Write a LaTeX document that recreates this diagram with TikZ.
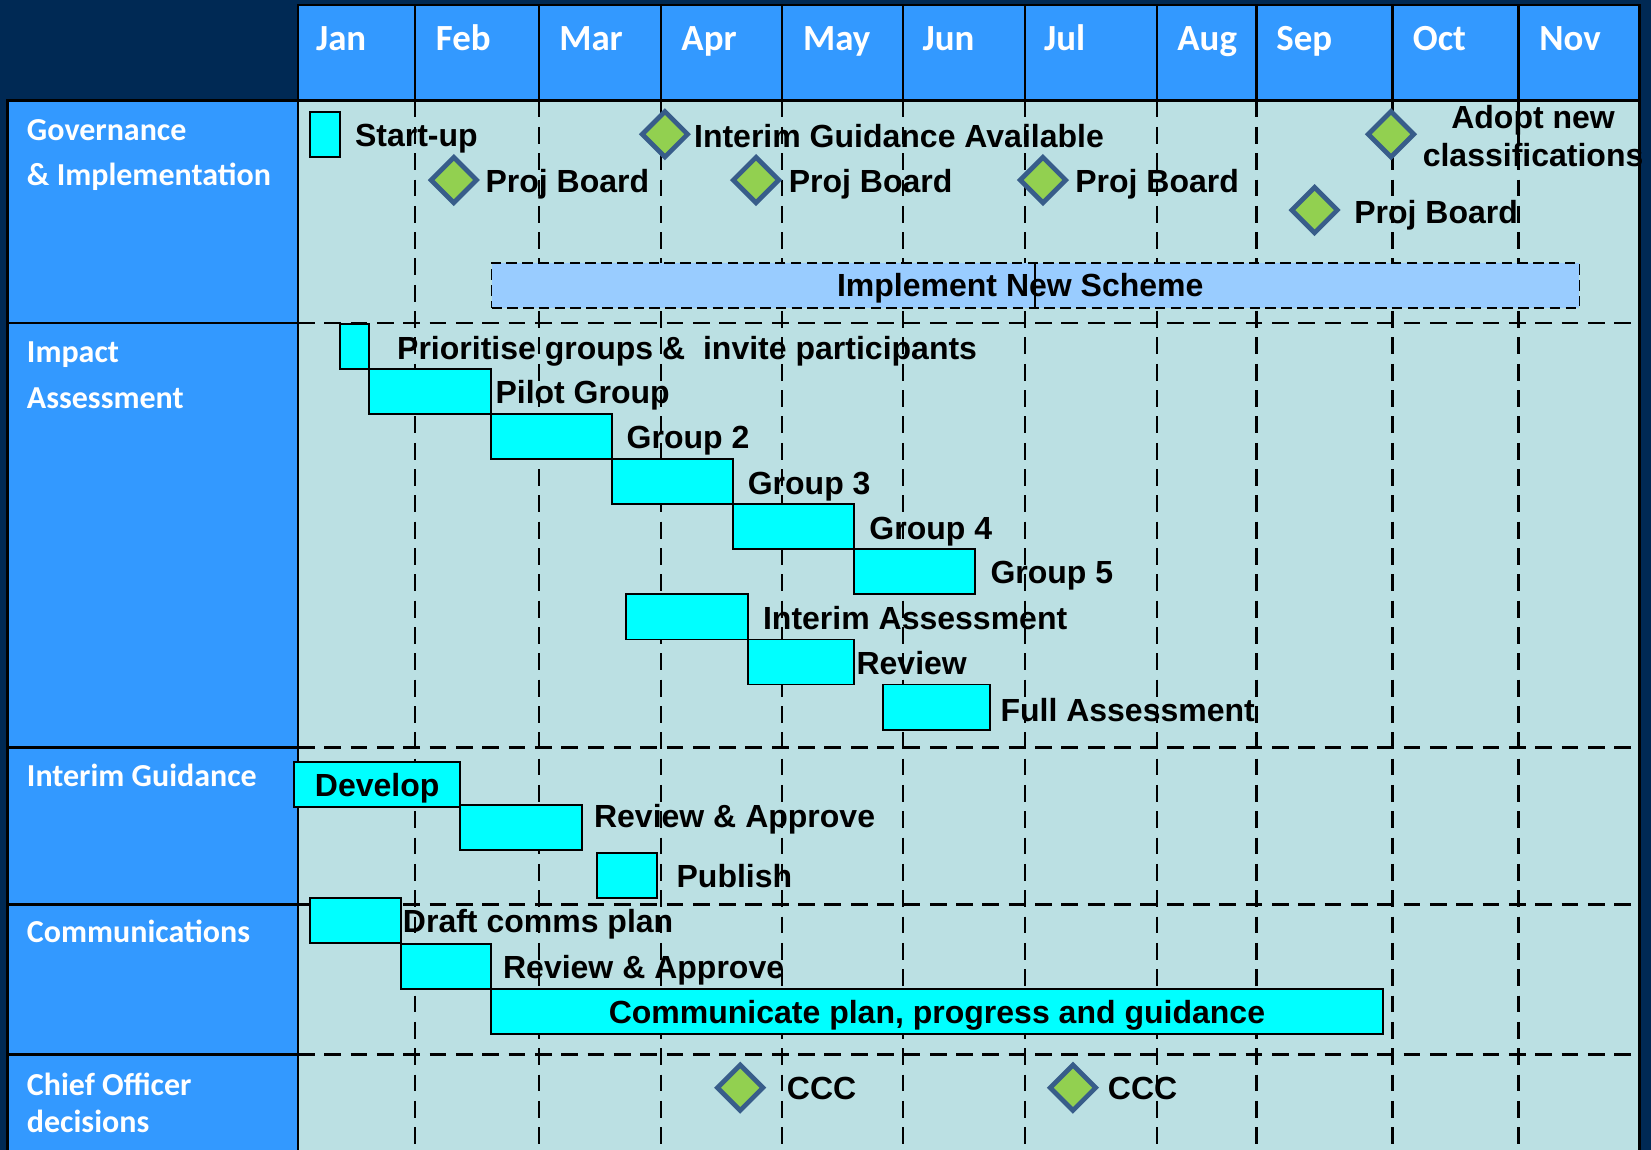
\documentclass[tikz,border=0pt]{standalone}
\usepackage{fontspec}
\setmainfont{Liberation Sans}
\newfontfamily\calfont{Carlito}
\usetikzlibrary{shapes.geometric}
\definecolor{navy}{RGB}{0,41,84}
\definecolor{hdrblue}{RGB}{51,153,255}
\definecolor{chartbg}{RGB}{187,224,227}
\definecolor{taskcyan}{RGB}{0,255,255}
\definecolor{implblue}{RGB}{153,204,255}
\definecolor{msfill}{RGB}{146,208,80}
\definecolor{msedge}{RGB}{56,93,138}
\begin{document}
\begin{tikzpicture}[x=1pt,y=-1pt,
  solidline/.style={line width=2.6pt, black},
  gridline/.style={line width=2.6pt, black, dash pattern=on 16pt off 9pt},
  taskbox/.style={draw=black, fill=taskcyan, line width=1.8pt, inner sep=0pt, outer sep=0pt, anchor=north west},
  implbox/.style={draw=black, fill=implblue, line width=1.6pt, dash pattern=on 10pt off 5pt, inner sep=0pt, outer sep=0pt, anchor=north west},
  milestone/.style={diamond, draw=msedge, fill=msfill, line width=4.5pt, minimum width=45pt, minimum height=45pt, inner sep=0pt},
  tasklabel/.style={font=\fontsize{30.4}{36}\selectfont\bfseries, text=black, inner sep=0pt, anchor=base west},
  rowlabel/.style={font=\calfont\fontsize{30.4}{36}\selectfont\bfseries, text=white, inner sep=0pt, anchor=base west},
  monthlabel/.style={font=\calfont\fontsize{35}{42}\selectfont\bfseries, text=white, inner sep=0pt, anchor=base west}]
\useasboundingbox (0,0) rectangle (1568,1092);
% backgrounds
\fill[navy] (0,0) rectangle (1568,1092);
\fill[hdrblue] (283,4.75) rectangle (1557,95.5);
\fill[hdrblue] (7,95.5) rectangle (283,1092);
\fill[chartbg] (283,95.5) rectangle (1557,1092);
% grid (body)
\foreach \x in {394.1,511.9,627.8,742.7,857.7,973.4,1098.7,1193.2,1322.2,1442.1}
  \draw[gridline] (\x,95.5) -- (\x,1092);
\foreach \y in {306.8,709.7,858.8,1001.3}
  \draw[gridline] (283,\y) -- (1557,\y);
% header solid lines
\foreach \x in {394.1,511.9,627.8,742.7,857.7,973.4,1098.7,1193.2,1322.2,1442.1}
  \draw[solidline] (\x,4.75) -- (\x,95.5);
\draw[solidline] (283,1092) -- (283,4.75) -- (1557,4.75) -- (1557,1092);
\draw[solidline] (7,1092) -- (7,95.5) -- (1557,95.5);
\foreach \y in {306.8,709.7,858.8,1001.3}
  \draw[solidline] (7,\y) -- (283,\y);
% month labels
\node[monthlabel] (mJan) at (300,48) {Jan};
\node[monthlabel] (mFeb) at (413.8,48) {Feb};
\node[monthlabel] (mMar) at (531,48) {Mar};
\node[monthlabel] (mApr) at (647,48) {Apr};
\node[monthlabel] (mMay) at (762.5,48) {May};
\node[monthlabel] (mJun) at (876,48) {Jun};
\node[monthlabel] (mJul) at (991.4,48) {Jul};
\node[monthlabel] (mAug) at (1118,48) {Aug};
\node[monthlabel] (mSep) at (1212,48) {Sep};
\node[monthlabel] (mOct) at (1341.6,48) {Oct};
\node[monthlabel] (mNov) at (1461.7,48) {Nov};
% row labels
\node[rowlabel] (rGov1) at (25.4,133.5) {Governance};
\node[rowlabel] (rGov2) at (25.4,176.5) {\& Implementation};
\node[rowlabel] (rImp1) at (25.4,344.5) {Impact};
\node[rowlabel] (rImp2) at (25.4,387.5) {Assessment};
\node[rowlabel] (rIG) at (25.4,747) {Interim Guidance};
\node[rowlabel] (rCom) at (25.4,895) {Communications};
\node[rowlabel] (rCO1) at (25.4,1040) {Chief Officer};
\node[rowlabel] (rCO2) at (25.4,1075.3) {decisions};
% Governance row
\node[taskbox, minimum width=29pt, minimum height=43pt] (bStart) at (294,106.5) {};
\node[tasklabel] (lStart) at (337,139.5) {Start-up};
\node[implbox, minimum width=1033.2pt, minimum height=42.8pt] (bImpl) at (466.8,250) {};
\draw[line width=1.2pt] (983,250) -- (983,292.8);
\node[tasklabel, anchor=base] (lImpl) at (969,282) {Implement New Scheme};
\node[milestone] (dIGA) at (631.5,127.5) {};
\node[tasklabel] (lIGA) at (659,140) {Interim Guidance Available};
\node[milestone] (dPB1) at (431,171) {};
\node[tasklabel] (lPB1) at (461,183) {Proj Board};
\node[milestone] (dPB2) at (718,171) {};
\node[tasklabel] (lPB2) at (749,183) {Proj Board};
\node[milestone] (dPB3) at (990.5,171) {};
\node[tasklabel] (lPB3) at (1021,183) {Proj Board};
\node[milestone] (dPB4) at (1248.5,199.5) {};
\node[tasklabel] (lPB4) at (1286,212) {Proj Board};
\node[milestone] (dAdopt) at (1321,127.5) {};
\node[tasklabel, anchor=base] (lAdopt1) at (1456,122) {Adopt new};
\node[tasklabel, anchor=base] (lAdopt2) at (1456,158) {classifications};
% Impact assessment row
\node[taskbox, minimum width=28.2pt, minimum height=42.8pt] (bPri) at (322.5,307.7) {};
\node[tasklabel] (lPri) at (377,341.3) {Prioritise groups \&~ invite participants};
\node[taskbox, minimum width=115.3pt, minimum height=42.8pt] (bPilot) at (350.7,350.5) {};
\node[tasklabel] (lPilot) at (470.4,383) {Pilot Group};
\node[taskbox, minimum width=115.3pt, minimum height=42.8pt] (bG2) at (466,393.3) {};
\node[tasklabel] (lG2) at (595,425.8) {Group 2};
\node[taskbox, minimum width=114.7pt, minimum height=42.8pt] (bG3) at (581.3,436.1) {};
\node[tasklabel] (lG3) at (710,469.5) {Group 3};
\node[taskbox, minimum width=115pt, minimum height=42.8pt] (bG4) at (696,478.9) {};
\node[tasklabel] (lG4) at (825.5,512) {Group 4};
\node[taskbox, minimum width=115.3pt, minimum height=42.8pt] (bG5) at (811,521.7) {};
\node[tasklabel] (lG5) at (940.5,554.6) {Group 5};
\node[taskbox, minimum width=115.3pt, minimum height=42.8pt] (bIA) at (594.9,564.5) {};
\node[tasklabel] (lIA) at (724.5,598.3) {Interim Assessment};
\node[taskbox, minimum width=100.8pt, minimum height=42.8pt] (bRev) at (710.2,607.3) {};
\node[tasklabel] (lRev) at (813.3,641) {Review};
\node[taskbox, minimum width=101.5pt, minimum height=42.8pt] (bFull) at (839,650.1) {};
\node[tasklabel] (lFull) at (950,685.4) {Full Assessment};
% Interim guidance row
\node[taskbox, minimum width=158pt, minimum height=42.8pt] (bDev) at (279.2,723.3) {};
\node[tasklabel, anchor=base] (lDev) at (358.2,756) {Develop};
\node[taskbox, minimum width=115.2pt, minimum height=42.8pt] (bIGRA) at (437.2,764.5) {};
\node[tasklabel] (lIGRA) at (564,785.7) {Review \& Approve};
\node[taskbox, minimum width=57.5pt, minimum height=42.8pt] (bPub) at (566.7,809.8) {};
\node[tasklabel] (lPub) at (642.4,842.6) {Publish};
% Communications row
\node[taskbox, minimum width=86.5pt, minimum height=42.8pt] (bDraft) at (294,853) {};
\node[tasklabel] (lDraft) at (382.5,885.2) {Draft comms plan};
\node[taskbox, minimum width=85.8pt, minimum height=43pt] (bCRA) at (380.5,896.2) {};
\node[tasklabel] (lCRA) at (477.6,929.1) {Review \& Approve};
\node[taskbox, minimum width=847pt, minimum height=43pt] (bComm) at (466.3,939.2) {};
\node[tasklabel, anchor=base] (lComm) at (889.8,971.8) {Communicate plan, progress and guidance};
% Chief officer decisions
\node[milestone] (dCCC1) at (703,1033) {};
\node[tasklabel] (lCCC1) at (747.2,1044) {CCC};
\node[milestone] (dCCC2) at (1019,1033) {};
\node[tasklabel] (lCCC2) at (1052,1044) {CCC};
\end{tikzpicture}
\end{document}
